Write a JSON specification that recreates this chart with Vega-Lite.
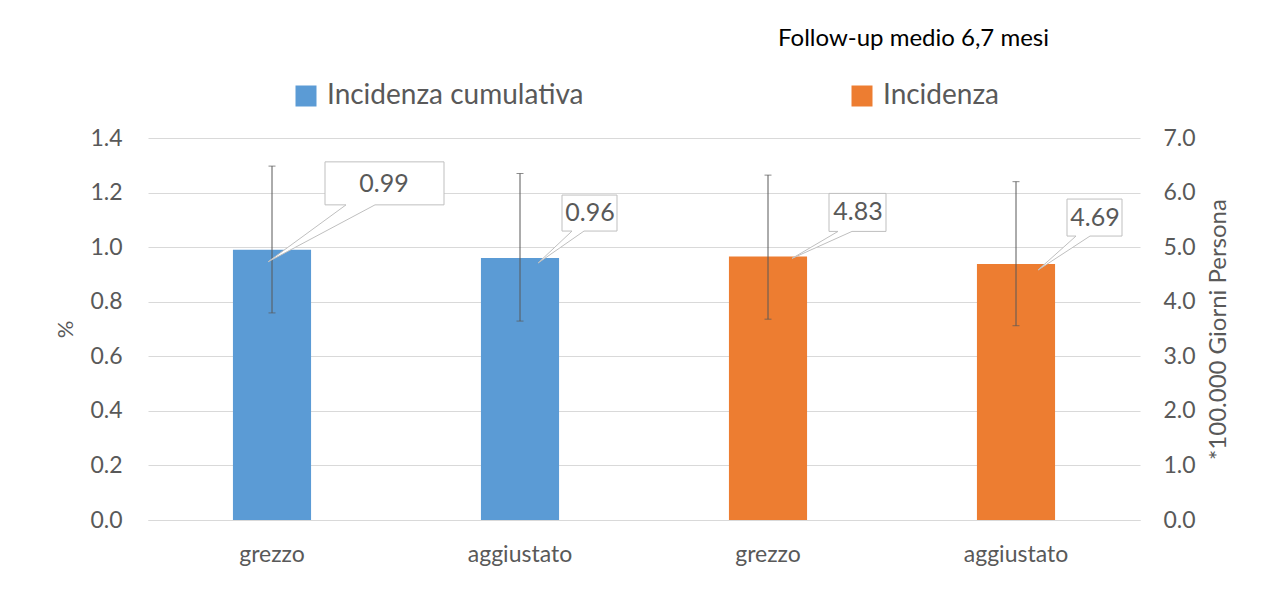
{
  "$schema": "https://vega.github.io/schema/vega-lite/v6.json",
  "width": 992,
  "height": 382,
  "autosize": {"type": "none"},
  "padding": {"left": 148, "top": 138, "right": 138, "bottom": 91},
  "background": "white",
  "config": {
    "font": "Lato",
    "view": {"stroke": null},
    "axis": {"labelFont": "Lato", "titleFont": "Lato", "labelColor": "#595959", "titleColor": "#595959", "labelFontSize": 23, "titleFontSize": 22, "titleFontWeight": "normal", "ticks": false, "domain": false, "gridColor": "#D9D9D9", "gridWidth": 1},
    "axisY": {"labelFontSize": 23},
    "axisRight": {"titleX": 78, "titleY": 191, "titleAngle": 270, "titleBaseline": "middle", "titleAlign": "center", "titleFontSize": 24},
    "legend": {"labelFont": "Lato", "labelColor": "#595959", "labelFontSize": 28, "labelLimit": 500}
  },
  "title": {"text": "Follow-up medio 6,7 mesi", "anchor": "start", "frame": "group", "dx": 630, "offset": 31, "fontSize": 24, "fontWeight": "normal", "color": "#000000", "font": "Lato"},
  "data": {"values": [
    {"cat": "grezzo_c", "serie": "Incidenza cumulativa", "value": 0.99, "lo": 0.759, "hi": 1.297, "id": "c1", "lab": "0.99"},
    {"cat": "aggiustato_c", "serie": "Incidenza cumulativa", "value": 0.96, "lo": 0.729, "hi": 1.27, "id": "c2", "lab": "0.96"},
    {"cat": "grezzo_i", "serie": "Incidenza", "value": 4.83, "lo": 3.68, "hi": 6.32, "id": "c3", "lab": "4.83"},
    {"cat": "aggiustato_i", "serie": "Incidenza", "value": 4.69, "lo": 3.56, "hi": 6.2, "id": "c4", "lab": "4.69"}
  ]},
  "encoding": {
    "x": {"field": "cat", "type": "nominal", "sort": null,
      "scale": {"domain": ["grezzo_c", "aggiustato_c", "grezzo_i", "aggiustato_i"], "paddingInner": 0.685, "paddingOuter": 0.3425},
      "axis": {"title": null, "labelAngle": 0, "labelPadding": 23, "domain": true, "domainColor": "#D9D9D9", "labelExpr": "split(datum.value, '_')[0]"}}
  },
  "layer": [
    {
      "transform": [{"filter": "datum.serie === 'Incidenza cumulativa'"}],
      "layer": [
        {"mark": {"type": "bar"},
         "encoding": {
           "y": {"field": "value", "type": "quantitative", "scale": {"domain": [0, 1.4], "nice": false},
             "axis": {"title": "%", "orient": "left", "values": [0, 0.2, 0.4, 0.6, 0.8, 1.0, 1.2, 1.4], "format": ".1f", "labelPadding": 26, "titlePadding": 12, "grid": true}},
           "color": {"field": "serie", "type": "nominal",
             "scale": {"domain": ["Incidenza cumulativa", "Incidenza"], "range": ["#5B9BD5", "#ED7D31"]},
             "legend": {"title": null, "orient": "none", "legendX": 144, "legendY": -56, "direction": "horizontal", "symbolType": "square", "symbolSize": 441, "symbolStrokeWidth": 0, "columnPadding": 264, "labelOffset": 7}}
         }},
        {"mark": {"type": "rule", "color": "#595959", "strokeWidth": 1},
         "encoding": {"y": {"field": "lo", "type": "quantitative",
             "axis": {"title": "%", "orient": "left", "values": [0, 0.2, 0.4, 0.6, 0.8, 1.0, 1.2, 1.4], "format": ".1f", "labelPadding": 26, "titlePadding": 12, "grid": true}},
           "y2": {"field": "hi"}}},
        {"mark": {"type": "tick", "color": "#595959", "size": 7, "thickness": 1},
         "encoding": {"y": {"field": "hi", "type": "quantitative",
             "axis": {"title": "%", "orient": "left", "values": [0, 0.2, 0.4, 0.6, 0.8, 1.0, 1.2, 1.4], "format": ".1f", "labelPadding": 26, "titlePadding": 12, "grid": true}}}},
        {"mark": {"type": "tick", "color": "#595959", "size": 7, "thickness": 1},
         "encoding": {"y": {"field": "lo", "type": "quantitative",
             "axis": {"title": "%", "orient": "left", "values": [0, 0.2, 0.4, 0.6, 0.8, 1.0, 1.2, 1.4], "format": ".1f", "labelPadding": 26, "titlePadding": 12, "grid": true}}}},
        {"mark": {"type": "point", "filled": true, "fill": "white", "stroke": "#BFBFBF", "strokeWidth": 1, "opacity": 1, "size": 40000},
         "encoding": {"y": {"field": "value", "type": "quantitative",
             "axis": {"title": "%", "orient": "left", "values": [0, 0.2, 0.4, 0.6, 0.8, 1.0, 1.2, 1.4], "format": ".1f", "labelPadding": 26, "titlePadding": 12, "grid": true}},
           "shape": {"field": "id", "type": "nominal", "legend": null,
             "scale": {"domain": ["c1", "c2", "c3", "c4"], "range": [
               "M0.53,-0.88H1.72V-0.45H1.03L-0.04,0.12L0.74,-0.45H0.53Z",
               "M0.42,-0.63H0.97V-0.27H0.64L0.18,0.05L0.52,-0.27H0.42Z",
               "M0.61,-0.63H1.18V-0.25H0.84L0.24,0.02L0.70,-0.25H0.61Z",
               "M0.51,-0.65H1.06V-0.28H0.74L0.22,0.06L0.60,-0.28H0.51Z"]}}}},
        {"transform": [{"filter": "datum.id === 'c1'"}],
         "mark": {"type": "text", "font": "Lato", "fontSize": 25, "color": "#595959", "align": "center", "baseline": "middle", "dx": 112, "dy": -66},
         "encoding": {"y": {"field": "value", "type": "quantitative",
             "axis": {"title": "%", "orient": "left", "values": [0, 0.2, 0.4, 0.6, 0.8, 1.0, 1.2, 1.4], "format": ".1f", "labelPadding": 26, "titlePadding": 12, "grid": true}},
           "text": {"field": "lab"}}},
        {"transform": [{"filter": "datum.id === 'c2'"}],
         "mark": {"type": "text", "font": "Lato", "fontSize": 25, "color": "#595959", "align": "center", "baseline": "middle", "dx": 70, "dy": -45},
         "encoding": {"y": {"field": "value", "type": "quantitative",
             "axis": {"title": "%", "orient": "left", "values": [0, 0.2, 0.4, 0.6, 0.8, 1.0, 1.2, 1.4], "format": ".1f", "labelPadding": 26, "titlePadding": 12, "grid": true}},
           "text": {"field": "lab"}}}
      ]
    },
    {
      "transform": [{"filter": "datum.serie === 'Incidenza'"}],
      "layer": [
        {"mark": {"type": "bar"},
         "encoding": {
           "y": {"field": "value", "type": "quantitative", "scale": {"domain": [0, 7], "nice": false},
             "axis": {"title": "*100.000 Giorni Persona", "orient": "right", "values": [0, 1, 2, 3, 4, 5, 6, 7], "format": ".1f", "labelPadding": 23, "grid": false}},
           "color": {"field": "serie", "type": "nominal"}
         }},
        {"mark": {"type": "rule", "color": "#595959", "strokeWidth": 1},
         "encoding": {"y": {"field": "lo", "type": "quantitative",
             "axis": {"title": "*100.000 Giorni Persona", "orient": "right", "values": [0, 1, 2, 3, 4, 5, 6, 7], "format": ".1f", "labelPadding": 23, "grid": false}},
           "y2": {"field": "hi"}}},
        {"mark": {"type": "tick", "color": "#595959", "size": 7, "thickness": 1},
         "encoding": {"y": {"field": "hi", "type": "quantitative",
             "axis": {"title": "*100.000 Giorni Persona", "orient": "right", "values": [0, 1, 2, 3, 4, 5, 6, 7], "format": ".1f", "labelPadding": 23, "grid": false}}}},
        {"mark": {"type": "tick", "color": "#595959", "size": 7, "thickness": 1},
         "encoding": {"y": {"field": "lo", "type": "quantitative",
             "axis": {"title": "*100.000 Giorni Persona", "orient": "right", "values": [0, 1, 2, 3, 4, 5, 6, 7], "format": ".1f", "labelPadding": 23, "grid": false}}}},
        {"mark": {"type": "point", "filled": true, "fill": "white", "stroke": "#BFBFBF", "strokeWidth": 1, "opacity": 1, "size": 40000},
         "encoding": {"y": {"field": "value", "type": "quantitative",
             "axis": {"title": "*100.000 Giorni Persona", "orient": "right", "values": [0, 1, 2, 3, 4, 5, 6, 7], "format": ".1f", "labelPadding": 23, "grid": false}},
           "shape": {"field": "id", "type": "nominal", "legend": null}}},
        {"transform": [{"filter": "datum.id === 'c3'"}],
         "mark": {"type": "text", "font": "Lato", "fontSize": 25, "color": "#595959", "align": "center", "baseline": "middle", "dx": 90, "dy": -44},
         "encoding": {"y": {"field": "value", "type": "quantitative",
             "axis": {"title": "*100.000 Giorni Persona", "orient": "right", "values": [0, 1, 2, 3, 4, 5, 6, 7], "format": ".1f", "labelPadding": 23, "grid": false}},
           "text": {"field": "lab"}}},
        {"transform": [{"filter": "datum.id === 'c4'"}],
         "mark": {"type": "text", "font": "Lato", "fontSize": 25, "color": "#595959", "align": "center", "baseline": "middle", "dx": 79, "dy": -46},
         "encoding": {"y": {"field": "value", "type": "quantitative",
             "axis": {"title": "*100.000 Giorni Persona", "orient": "right", "values": [0, 1, 2, 3, 4, 5, 6, 7], "format": ".1f", "labelPadding": 23, "grid": false}},
           "text": {"field": "lab"}}}
      ]
    }
  ],
  "resolve": {"scale": {"y": "independent"}, "axis": {"y": "independent"}}
}
